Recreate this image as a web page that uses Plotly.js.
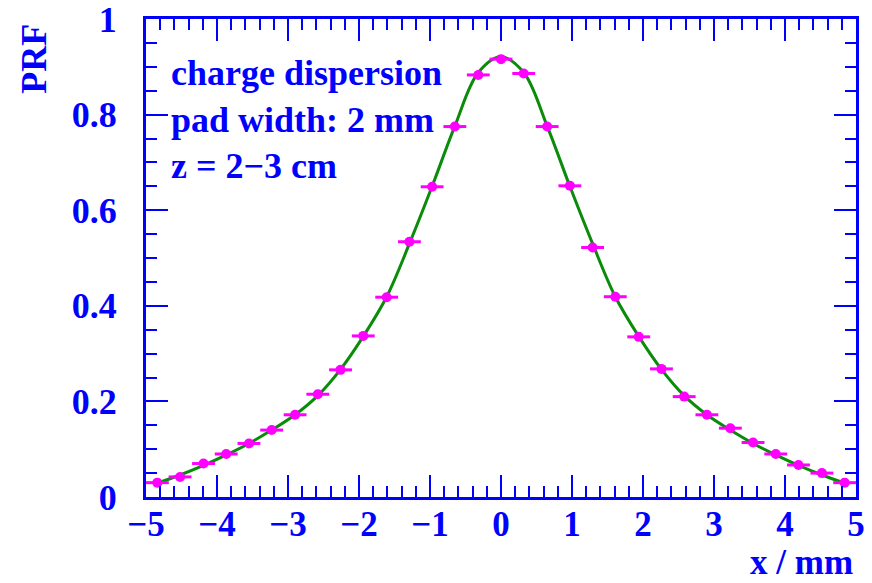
<!DOCTYPE html>
<html>
<head>
<meta charset="utf-8">
<script src="https://cdn.plot.ly/plotly-3.0.1.min.js"></script>
<style>html,body{margin:0;padding:0;background:#fff;}#chart{width:872px;height:583px;}</style>
</head>
<body>
<div id="chart"></div>
<script>
// measured points (PRF vs x)
var dataX = [-4.84, -4.52, -4.19, -3.87, -3.55, -3.23, -2.90, -2.58, -2.26, -1.94, -1.61, -1.29, -0.97, -0.65, -0.32, 0.00,
             0.32, 0.65, 0.97, 1.29, 1.61, 1.94, 2.26, 2.58, 2.90, 3.23, 3.55, 3.87, 4.19, 4.52, 4.84];
var dataY = [0.030, 0.042, 0.070, 0.090, 0.112, 0.140, 0.172, 0.215, 0.266, 0.337, 0.418, 0.534, 0.649, 0.775, 0.883, 0.916,
             0.886, 0.775, 0.651, 0.522, 0.419, 0.335, 0.268, 0.210, 0.172, 0.144, 0.114, 0.090, 0.067, 0.050, 0.030];
var dataXErr = [0.161, 0.161, 0.161, 0.161, 0.161, 0.161, 0.161, 0.161, 0.161, 0.161, 0.161, 0.161, 0.161, 0.161, 0.161, 0.161,
                0.161, 0.161, 0.161, 0.161, 0.161, 0.161, 0.161, 0.161, 0.161, 0.161, 0.161, 0.161, 0.161, 0.161, 0.161];
var dataYErr = [0.008, 0.008, 0.008, 0.008, 0.008, 0.008, 0.008, 0.008, 0.008, 0.008, 0.008, 0.008, 0.008, 0.008, 0.008, 0.008,
                0.008, 0.008, 0.008, 0.008, 0.008, 0.008, 0.008, 0.008, 0.008, 0.008, 0.008, 0.008, 0.008, 0.008, 0.008];

// fitted curve samples
var fitX = [-4.84, -4.52, -4.19, -3.87, -3.55, -3.23, -2.90, -2.58, -2.26, -1.94, -1.61, -1.29, -0.97, -0.65, -0.32, 0.00,
            0.32, 0.65, 0.97, 1.29, 1.61, 1.94, 2.26, 2.58, 2.90, 3.23, 3.55, 3.87, 4.19, 4.52, 4.84];
var fitY = [0.029, 0.046, 0.066, 0.088, 0.112, 0.140, 0.172, 0.212, 0.267, 0.336, 0.419, 0.530, 0.650, 0.776, 0.888, 0.921,
            0.888, 0.776, 0.650, 0.530, 0.419, 0.336, 0.267, 0.212, 0.172, 0.140, 0.112, 0.088, 0.066, 0.046, 0.029];

var xTickVals = [-5, -4, -3, -2, -1, 0, 1, 2, 3, 4, 5];
var yTickVals = [0, 0.2, 0.4, 0.6, 0.8, 1];
var infoLines = ["charge dispersion", "pad width: 2 mm", "z = 2\u22123 cm"];
var xTitle = "x / mm";
var yTitle = "PRF";

var BLUE = "#0000ff";
var FONT = "Liberation Serif, Times New Roman, serif";
var FS = 36;

var traces = [
  {
    x: fitX, y: fitY, type: "scatter", mode: "lines",
    line: {color: "#0a8c0a", width: 3, shape: "spline", smoothing: 1},
    hoverinfo: "skip"
  },
  {
    x: dataX, y: dataY, type: "scatter", mode: "markers",
    marker: {color: "#ff00ff", size: 10, symbol: "circle"},
    error_x: {type: "data", array: dataXErr, color: "#ff00ff", thickness: 3, width: 0},
    error_y: {type: "data", array: dataYErr, color: "#ff00ff", thickness: 3, width: 0}
  }
];

var axisCommon = {
  showline: true, linecolor: BLUE, linewidth: 3, mirror: "allticks",
  ticks: "inside", tickcolor: BLUE, tickwidth: 2, ticklen: 22,
  showgrid: false, zeroline: false, ticklabeloverflow: "allow",
  tickfont: {family: FONT, size: FS, color: BLUE, weight: "bold"}
};

var xaxis = Object.assign({}, axisCommon, {
  range: [-5, 5], tickmode: "array", tickvals: xTickVals,
  ticklabelstandoff: -6,
  tickfont: {family: FONT, size: 35, color: BLUE, weight: "bold"},
  minor: {dtick: 0.2, tick0: -5, ticks: "inside", ticklen: 11, tickwidth: 2, tickcolor: BLUE, showgrid: false}
});
var yaxis = Object.assign({}, axisCommon, {
  range: [0, 1], tickmode: "array", tickvals: yTickVals,
  ticklabelstandoff: 19,
  minor: {dtick: 0.05, tick0: 0, ticks: "inside", ticklen: 11, tickwidth: 2, tickcolor: BLUE, showgrid: false}
});

var annotations = [];
var lineY = [0.887, 0.789, 0.692];
for (var i = 0; i < infoLines.length; i++) {
  annotations.push({
    text: infoLines[i], xref: "paper", yref: "paper", x: 0.0324, y: lineY[i],
    xanchor: "left", yanchor: "middle", showarrow: false,
    font: {family: FONT, size: FS, color: BLUE, weight: "bold"}
  });
}
annotations.push({
  text: xTitle, xref: "paper", yref: "paper", x: 0.9986, y: -0.1820,
  xanchor: "right", yanchor: "bottom", showarrow: false,
  font: {family: FONT, size: 35, color: BLUE, weight: "bold"}
});
annotations.push({
  text: yTitle, xref: "paper", yref: "paper", x: -0.158, y: 0.9937,
  xanchor: "center", yanchor: "top", showarrow: false, textangle: -90,
  font: {family: FONT, size: FS, color: BLUE, weight: "bold"}
});

var layout = {
  width: 872, height: 583,
  margin: {l: 146, r: 16, t: 19, b: 86},
  paper_bgcolor: "#ffffff", plot_bgcolor: "#ffffff",
  showlegend: false,
  xaxis: xaxis, yaxis: yaxis,
  annotations: annotations
};

Plotly.newPlot("chart", traces, layout, {staticPlot: true, displayModeBar: false});
</script>
</body>
</html>
